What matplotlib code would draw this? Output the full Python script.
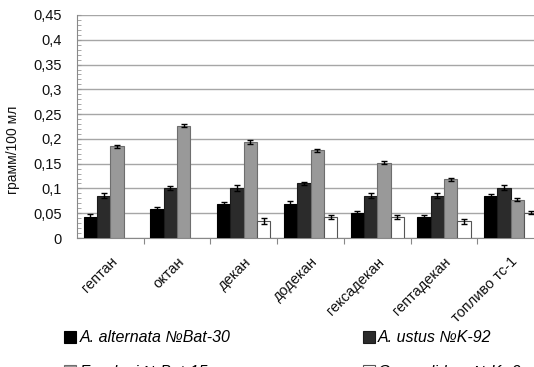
import matplotlib
matplotlib.use("Agg")
import matplotlib.pyplot as plt
import numpy as np
from matplotlib.patches import Patch
from matplotlib.ticker import MultipleLocator, FuncFormatter

categories = ["гептан", "октан", "декан", "додекан", "гексадекан", "гептадекан", "топливо тс-1"]
series_names = ["A. alternata №Bat-30", "A. ustus №K-92", "F. solani №Bat-15", "G. candidum №Kr-2"]
alternata = [0.042, 0.059, 0.069, 0.069, 0.050, 0.042, 0.085]
ustus = [0.085, 0.101, 0.101, 0.110, 0.085, 0.085, 0.101]
solani = [0.185, 0.227, 0.193, 0.177, 0.152, 0.119, 0.077]
candidum = [0.0, 0.0, 0.034, 0.043, 0.043, 0.034, 0.051]
err_alternata = [0.006, 0.004, 0.004, 0.005, 0.004, 0.004, 0.003]
err_ustus = [0.005, 0.004, 0.006, 0.004, 0.005, 0.005, 0.005]
err_solani = [0.003, 0.004, 0.004, 0.003, 0.003, 0.003, 0.003]
err_candidum = [0.0, 0.0, 0.006, 0.004, 0.004, 0.005, 0.003]

plt.rcParams['font.family'] = ['Liberation Sans', 'DejaVu Sans']

fig = plt.figure(figsize=(5.34, 3.67), dpi=100)
ax = fig.add_axes([77/534, 1-238/367, 467/534, 223/367])

series = [alternata, ustus, solani, candidum]
errs = [err_alternata, err_ustus, err_solani, err_candidum]
faces = ["#000000", "#2b2b2b", "#999999", "#ffffff"]
edges = ["#000000", "#1a1a1a", "#6e6e6e", "#555555"]
offsets = [-0.3, -0.1, 0.1, 0.3]
x = np.arange(len(categories)) + 0.5
handles = []
for s, e, fc, ec, off, name in zip(series, errs, faces, edges, offsets, series_names):
    vals = np.array(s)
    ev = np.array(e)
    mask = vals > 0
    ax.bar(x[mask] + off, vals[mask], width=0.2, color=fc, edgecolor=ec, linewidth=0.8, zorder=3)
    ax.errorbar(x[mask] + off, vals[mask], yerr=ev[mask], fmt='none', ecolor='black',
                elinewidth=1.0, capsize=2.5, capthick=1.0, zorder=4)
    handles.append(Patch(facecolor=fc, edgecolor=ec, linewidth=0.8, label=name))

ax.set_xlim(0, 7)
ax.set_ylim(0, 0.45)
ax.yaxis.set_major_locator(MultipleLocator(0.05))
ax.yaxis.set_minor_locator(MultipleLocator(0.01))
ax.yaxis.set_major_formatter(FuncFormatter(lambda v, p: ("%g" % round(v, 2)).replace('.', ',')))
ax.grid(axis='y', which='major', color='#a6a6a6', linewidth=1.0, zorder=0)
ax.set_axisbelow(True)

ax.set_xticks(np.arange(1, 7))
ax.set_xticklabels([])
ax.set_xticks(x, minor=True)
ax.set_xticklabels(categories, minor=True, rotation=45, ha='right', va='top',
                   rotation_mode='anchor', fontsize=10.5, color='#111111')
ax.tick_params(axis='x', which='minor', length=0, pad=12)
ax.tick_params(axis='x', which='major', length=4, color='#888888', direction='out')
ax.tick_params(axis='y', which='major', length=3, direction='in', color='#999999',
               labelsize=10.5, labelcolor='#111111', pad=11)
ax.tick_params(axis='y', which='minor', length=3, direction='in', color='#999999')

for side in ['top', 'right']:
    ax.spines[side].set_visible(False)
ax.spines['left'].set_color('#888888')
ax.spines['bottom'].set_color('#888888')

ax.set_ylabel("грамм/100 мл", fontsize=10, color='#111111')
ax.yaxis.set_label_coords(-(77-20)/467, (238-150)/223)

order = [handles[0], handles[2], handles[1], handles[3]]
fig.legend(handles=order, loc='upper left', bbox_to_anchor=(58/534, 1-324/367), ncol=2,
           frameon=False, handlelength=0.75, handleheight=0.75, handletextpad=0.2,
           columnspacing=8.3, labelspacing=1.2, borderaxespad=0,
           prop={'style': 'italic', 'size': 11.5})

fig.savefig("out.png", dpi=100)
